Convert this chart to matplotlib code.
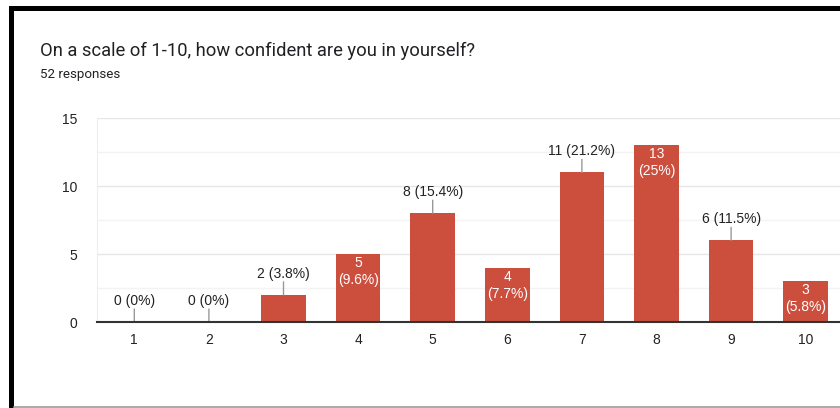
import matplotlib
matplotlib.use('Agg')
from matplotlib import pyplot as plt
from matplotlib.lines import Line2D
from matplotlib.patches import Rectangle

W, H = 840, 408

title = 'On a scale of 1-10, how confident are you in yourself?'
subtitle = '52 responses'
scores = ['1', '2', '3', '4', '5', '6', '7', '8', '9', '10']
counts = [0, 0, 2, 5, 8, 4, 11, 13, 6, 3]
total = 52

BAR = '#cc4f3e'
CHART_FONT = ['Liberation Sans', 'DejaVu Sans']


def pct_text(v: int) -> str:
    return f'{round(v / total * 100, 1):g}'


def px(v: float) -> float:
    # pixels -> points at dpi 100
    return v * 0.72


fig = plt.figure(figsize=(W / 100, H / 100), dpi=100)
fig.patch.set_facecolor('white')

# screenshot frame
fig.add_artist(Rectangle((9 / W, 1 - 11 / H), 1, 5 / H, transform=fig.transFigure,
                         color='black', lw=0))
fig.add_artist(Rectangle((9 / W, 0), 5 / W, 1 - 6 / H, transform=fig.transFigure,
                         color='black', lw=0))
fig.add_artist(Line2D([14 / W, 1], [1.5 / H, 1.5 / H], transform=fig.transFigure,
                      color='#9a9a9a', lw=1.2))

fig.text(40 / W, 1 - 56 / H, title, fontsize=13.2, family=['Roboto', 'DejaVu Sans'],
         color='#202124', va='baseline', ha='left')
fig.text(40 / W, 1 - 78 / H, subtitle, fontsize=9.6, family=['Roboto', 'DejaVu Sans'],
         color='#202124', va='baseline', ha='left')

left, right = 97 / W, (97 + 10 * 74.6) / W
bottom, top = (H - 322) / H, (H - 118) / H
ax = fig.add_axes([left, bottom, right - left, top - bottom])
ax.set_facecolor('white')

xs = list(range(1, len(scores) + 1))
ax.bar(xs, counts, width=0.6, color=BAR, zorder=3)

ax.set_xlim(0.5, 10.5)
ax.set_ylim(0, 15)
ax.set_yticks([0, 5, 10, 15])
ax.set_yticks([2.5, 7.5, 12.5], minor=True)
ax.set_xticks(xs)
ax.set_xticklabels(scores)
ax.grid(axis='y', which='major', color='#e6e6e6', lw=1, zorder=0)
ax.grid(axis='y', which='minor', color='#f3f3f3', lw=1, zorder=0)
ax.tick_params(axis='both', which='both', length=0, labelsize=10, colors='#222222')
ax.tick_params(axis='y', pad=14)
ax.tick_params(axis='x', pad=8)
for lab in ax.get_xticklabels() + ax.get_yticklabels():
    lab.set_family(CHART_FONT)

for side in ['top', 'right']:
    ax.spines[side].set_visible(False)
ax.spines['left'].set_color('#eeeeee')
ax.spines['bottom'].set_color('#333333')
ax.spines['bottom'].set_linewidth(1.5)
ax.spines['bottom'].set_zorder(5)

for x, v in zip(xs, counts):
    p = pct_text(v)
    if v >= 3 and len(p) <= 3:
        ax.annotate(str(v), (x, v), xytext=(0, px(-9)), textcoords='offset points',
                    ha='center', va='center', color='white', fontsize=10,
                    family=CHART_FONT, zorder=6)
        ax.annotate(f'({p}%)', (x, v), xytext=(0, px(-26)), textcoords='offset points',
                    ha='center', va='center', color='white', fontsize=10,
                    family=CHART_FONT, zorder=6)
    else:
        ax.annotate('', (x, v), xytext=(0, px(13)), textcoords='offset points',
                    arrowprops=dict(arrowstyle='-', color='#999999', lw=1,
                                    shrinkA=0, shrinkB=0), zorder=4)
        ax.annotate(f'{v} ({p}%)', (x, v), xytext=(0, px(21)), textcoords='offset points',
                    ha='center', va='center', color='#222222', fontsize=10,
                    family=CHART_FONT, zorder=6)

fig.savefig('out.png', dpi=100, facecolor='white')
